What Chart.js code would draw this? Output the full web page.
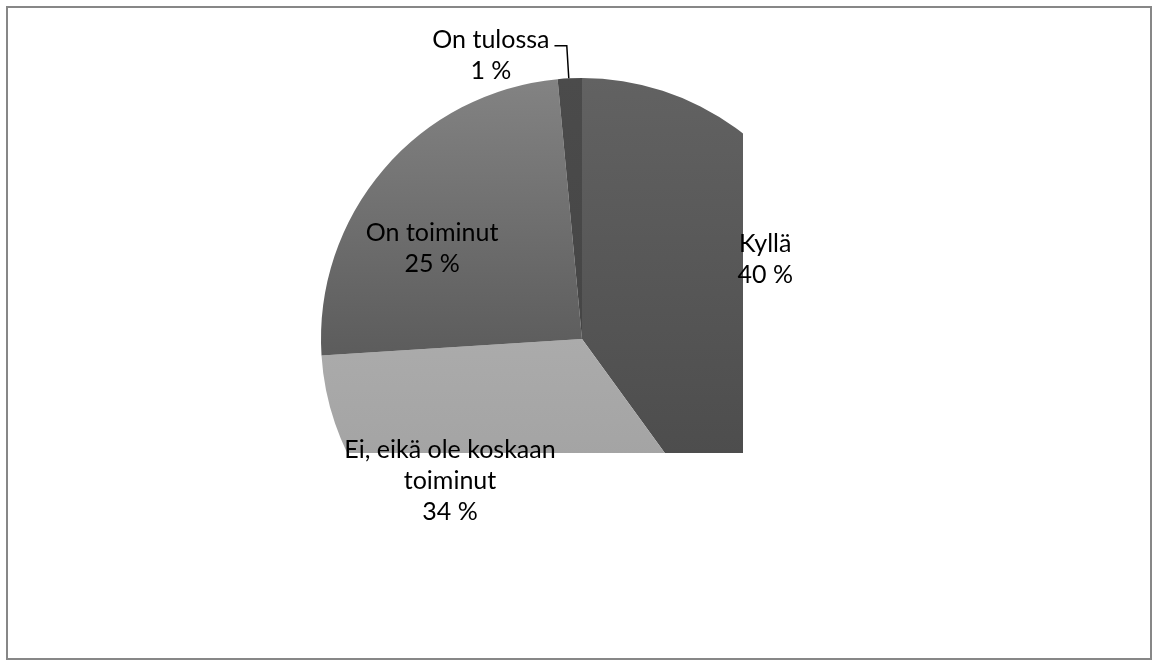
<!DOCTYPE html>
<html>
<head>
<meta charset="utf-8">
<script src="https://cdn.jsdelivr.net/npm/chart.js"></script>
<style>
  html, body { margin: 0; padding: 0; background: #fff; }
  #frame { position: absolute; left: 6px; top: 6px; width: 1142px; height: 650px; border: 2px solid #878787; }
  #myChart { position: absolute; left: 0; top: 0; }
</style>
</head>
<body>
<div id="frame"></div>
<canvas id="myChart" width="1158" height="666"></canvas>
<script>
// data
var categories = ['Kyllä', 'Ei, eikä ole koskaan\ntoiminut', 'On toiminut', 'On tulossa'];
var values = [40, 34, 24.51, 1.49];

// label placement: angle (deg, canvas convention) and radius fraction
var labelAngle = [-23.6, 132.9, -149, -107.8];
var labelRadius = [0.766, 0.743, 0.67, 1.142];

var total = values.reduce(function (a, b) { return a + b; }, 0);
var percents = values.map(function (v) { return Math.round(v / total * 100) + ' %'; });

function sliceFill(context) {
  var chart = context.chart;
  var area = chart.chartArea;
  var i = context.dataIndex;
  var flat = ['#555555', '#a8a8a8', '#6e6e6e', '#4a4a4a'];
  if (!area) return flat[i];
  var cy = (area.top + area.bottom) / 2;
  var r = 261;
  var g = chart.ctx.createLinearGradient(0, cy - r, 0, cy + r);
  if (i === 0) {
    g.addColorStop(0, '#626262');
    g.addColorStop(0.72, '#4d4d4d');
    g.addColorStop(1, '#454545');
  } else if (i === 1) {
    g.addColorStop(0, '#b0b0b0');
    g.addColorStop(0.5, '#ababab');
    g.addColorStop(0.72, '#a4a4a4');
    g.addColorStop(1, '#9c9c9c');
  } else if (i === 2) {
    g.addColorStop(0, '#838383');
    g.addColorStop(0.53, '#5c5c5c');
    g.addColorStop(1, '#444444');
  } else {
    g.addColorStop(0, '#4b4b4b');
    g.addColorStop(1, '#404040');
  }
  return g;
}

var pieLabels = {
  id: 'pieLabels',
  afterDatasetsDraw: function (chart) {
    var ctx = chart.ctx;
    var meta = chart.getDatasetMeta(0);
    ctx.save();
    ctx.font = '25px Lato';
    ctx.fillStyle = '#000';
    ctx.textAlign = 'center';
    ctx.textBaseline = 'middle';
    var lh = 31;
    meta.data.forEach(function (arc, i) {
      var lines = categories[i].split('\n').concat([percents[i]]);
      var a = labelAngle[i] * Math.PI / 180;
      var r = arc.outerRadius * labelRadius[i];
      var x = arc.x + Math.cos(a) * r;
      var y = arc.y + Math.sin(a) * r;
      var y0 = y - (lines.length - 1) * lh / 2;
      lines.forEach(function (t, k) { ctx.fillText(t, x, y0 + k * lh); });
      if (labelRadius[i] > 1) {
        // leader line to the small slice
        var w = ctx.measureText(lines[0]).width;
        var mid = (arc.startAngle + arc.endAngle) / 2;
        var px = arc.x + Math.cos(mid) * arc.outerRadius;
        var py = arc.y + Math.sin(mid) * arc.outerRadius;
        var ly = y0 + 6;
        ctx.beginPath();
        ctx.strokeStyle = '#000';
        ctx.lineWidth = 1.5;
        ctx.moveTo(x + w / 2 + 5, ly);
        ctx.lineTo(px - 3, ly);
        ctx.lineTo(px - 1, py);
        ctx.stroke();
      }
    });
    ctx.restore();
  }
};

var ctx = document.getElementById('myChart').getContext('2d');
var myChart = new Chart(ctx, {
  type: 'pie',
  data: {
    labels: categories,
    datasets: [{
      data: values,
      backgroundColor: sliceFill,
      borderWidth: 0,
      clip: { left: false, top: false, right: 0, bottom: 0 }
    }]
  },
  options: {
    responsive: false,
    animation: false,
    radius: 261,
    layout: { padding: { left: 421, right: 415, top: 225, bottom: 213 } },
    plugins: {
      legend: { display: false },
      tooltip: { enabled: false }
    }
  },
  plugins: [pieLabels]
});
</script>
</body>
</html>
